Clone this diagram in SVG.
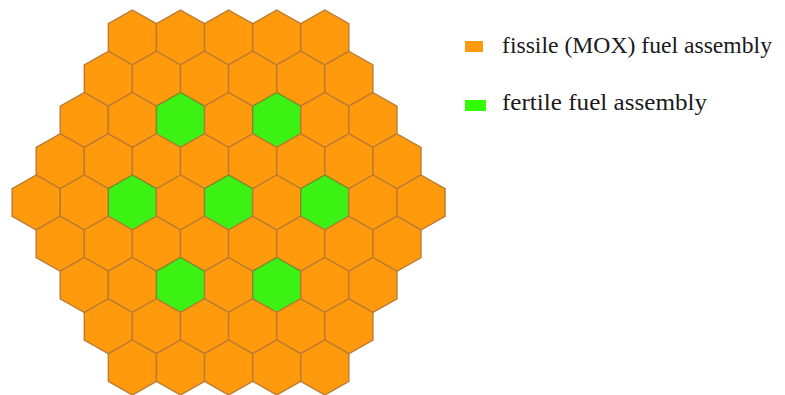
<svg xmlns="http://www.w3.org/2000/svg" xmlns:xlink="http://www.w3.org/1999/xlink" width="785" height="395" viewBox="0 0 785 395">
<style>
.f{fill:#FF9A0C;stroke:#B97A34;stroke-width:1.4}
.g{fill:#3CF212;stroke:#7C8A2C;stroke-width:1.4}
.t{font-family:"Liberation Serif","DejaVu Serif",serif;font-size:23px;fill:#1a1a1a}
</style>
<defs>
<polygon id="hex" points="0,-27.5 24.05,-13.75 24.05,13.75 0,27.5 -24.05,13.75 -24.05,-13.75"/>
</defs>
<rect width="785" height="395" fill="#fff"/>
<g id="connectors"/>
<g id="core">
<g id="r0">
<use href="#hex" class="f" x="132.4" y="37.5"/><use href="#hex" class="f" x="180.5" y="37.5"/><use href="#hex" class="f" x="228.6" y="37.5"/><use href="#hex" class="f" x="276.7" y="37.5"/><use href="#hex" class="f" x="324.8" y="37.5"/>
</g>
<g id="r1">
<use href="#hex" class="f" x="108.35" y="78.75"/><use href="#hex" class="f" x="156.45" y="78.75"/><use href="#hex" class="f" x="204.55" y="78.75"/><use href="#hex" class="f" x="252.65" y="78.75"/><use href="#hex" class="f" x="300.75" y="78.75"/><use href="#hex" class="f" x="348.85" y="78.75"/>
</g>
<g id="r2">
<use href="#hex" class="f" x="84.3" y="120"/><use href="#hex" class="f" x="132.4" y="120"/><use href="#hex" class="g" x="180.5" y="120"/><use href="#hex" class="f" x="228.6" y="120"/><use href="#hex" class="g" x="276.7" y="120"/><use href="#hex" class="f" x="324.8" y="120"/><use href="#hex" class="f" x="372.9" y="120"/>
</g>
<g id="r3">
<use href="#hex" class="f" x="60.25" y="161.25"/><use href="#hex" class="f" x="108.35" y="161.25"/><use href="#hex" class="f" x="156.45" y="161.25"/><use href="#hex" class="f" x="204.55" y="161.25"/><use href="#hex" class="f" x="252.65" y="161.25"/><use href="#hex" class="f" x="300.75" y="161.25"/><use href="#hex" class="f" x="348.85" y="161.25"/><use href="#hex" class="f" x="396.95" y="161.25"/>
</g>
<g id="r4">
<use href="#hex" class="f" x="36.2" y="202.5"/><use href="#hex" class="f" x="84.3" y="202.5"/><use href="#hex" class="g" x="132.4" y="202.5"/><use href="#hex" class="f" x="180.5" y="202.5"/><use href="#hex" class="g" x="228.6" y="202.5"/><use href="#hex" class="f" x="276.7" y="202.5"/><use href="#hex" class="g" x="324.8" y="202.5"/><use href="#hex" class="f" x="372.9" y="202.5"/><use href="#hex" class="f" x="421" y="202.5"/>
</g>
<g id="r5">
<use href="#hex" class="f" x="60.25" y="243.75"/><use href="#hex" class="f" x="108.35" y="243.75"/><use href="#hex" class="f" x="156.45" y="243.75"/><use href="#hex" class="f" x="204.55" y="243.75"/><use href="#hex" class="f" x="252.65" y="243.75"/><use href="#hex" class="f" x="300.75" y="243.75"/><use href="#hex" class="f" x="348.85" y="243.75"/><use href="#hex" class="f" x="396.95" y="243.75"/>
</g>
<g id="r6">
<use href="#hex" class="f" x="84.3" y="285"/><use href="#hex" class="f" x="132.4" y="285"/><use href="#hex" class="g" x="180.5" y="285"/><use href="#hex" class="f" x="228.6" y="285"/><use href="#hex" class="g" x="276.7" y="285"/><use href="#hex" class="f" x="324.8" y="285"/><use href="#hex" class="f" x="372.9" y="285"/>
</g>
<g id="r7">
<use href="#hex" class="f" x="108.35" y="326.25"/><use href="#hex" class="f" x="156.45" y="326.25"/><use href="#hex" class="f" x="204.55" y="326.25"/><use href="#hex" class="f" x="252.65" y="326.25"/><use href="#hex" class="f" x="300.75" y="326.25"/><use href="#hex" class="f" x="348.85" y="326.25"/>
</g>
<g id="r8">
<use href="#hex" class="f" x="132.4" y="367.5"/><use href="#hex" class="f" x="180.5" y="367.5"/><use href="#hex" class="f" x="228.6" y="367.5"/><use href="#hex" class="f" x="276.7" y="367.5"/><use href="#hex" class="f" x="324.8" y="367.5"/>
</g>
</g>
<g id="legend-fissile">
<rect x="465" y="41" width="18" height="11" fill="#FF9A0C"/>
<text class="t" x="502" y="53" textLength="270" lengthAdjust="spacingAndGlyphs">fissile (MOX) fuel assembly</text>
</g>
<g id="legend-fertile">
<rect x="465" y="100" width="21" height="11" fill="#33FF00"/>
<text class="t" x="502" y="110" textLength="205" lengthAdjust="spacingAndGlyphs">fertile fuel assembly</text>
</g>
</svg>
